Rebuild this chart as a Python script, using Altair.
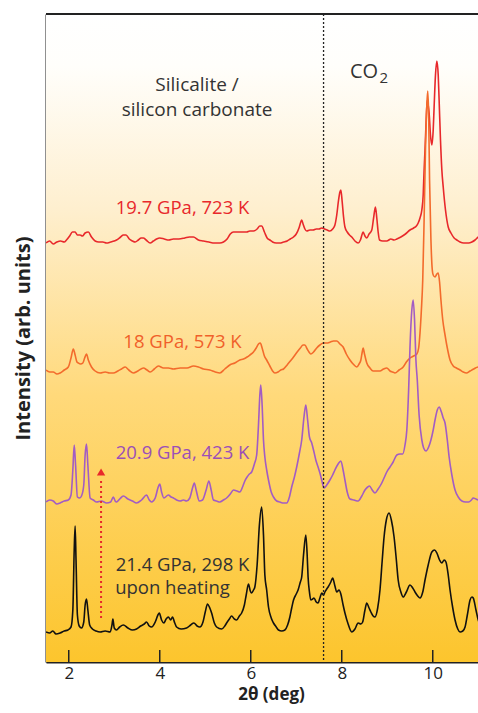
import altair as alt
import pandas as pd

# ---------------- data (2theta in deg, intensity in arbitrary units incl. offset) -------------
x_298 = [1.50,1.58,1.65,1.72,1.81,1.90,1.98,2.05,2.09,2.12,2.14,2.16,2.19,2.23,2.28,2.33,2.36,2.39,2.42,2.46,2.52,2.60,2.69,2.80,2.91,2.95,2.97,3.00,3.05,3.12,3.20,3.30,3.40,3.49,3.58,3.66,3.71,3.77,3.82,3.90,3.96,3.99,4.04,4.09,4.14,4.19,4.24,4.28,4.33,4.37,4.47,4.59,4.68,4.75,4.82,4.88,4.95,5.00,5.05,5.10,5.14,5.20,5.25,5.36,5.43,5.47,5.53,5.58,5.64,5.69,5.75,5.80,5.86,5.90,5.95,5.99,6.02,6.06,6.09,6.14,6.19,6.24,6.28,6.31,6.35,6.39,6.45,6.50,6.56,6.61,6.68,6.75,6.81,6.86,6.90,6.94,7.00,7.04,7.09,7.12,7.16,7.21,7.24,7.26,7.29,7.32,7.36,7.39,7.44,7.48,7.52,7.56,7.60,7.63,7.67,7.70,7.76,7.80,7.85,7.89,7.94,7.98,8.03,8.07,8.14,8.22,8.29,8.36,8.42,8.46,8.51,8.55,8.60,8.64,8.69,8.73,8.79,8.84,8.89,8.93,8.98,9.04,9.09,9.15,9.20,9.24,9.30,9.35,9.42,9.50,9.56,9.61,9.67,9.72,9.78,9.83,9.90,9.98,10.04,10.09,10.15,10.20,10.25,10.29,10.34,10.38,10.44,10.49,10.55,10.60,10.66,10.71,10.76,10.82,10.86,10.89,10.95,11.00,11.08,11.20]
y_298 = [28,27,29,26,27,29,30,33,50,110,134,100,45,34,32,38,55,61,50,35,31,29,28,29,28,35,41,32,30,33,35,32,30,31,34,36,38,34,33,38,45,47,40,37,41,43,40,43,37,33,31,32,35,37,34,33,38,48,56,52,47,37,33,31,34,37,41,44,41,40,44,47,55,65,76,69,67,70,73,95,135,153,125,85,70,53,42,37,33,30,29,30,35,43,52,60,66,70,78,83,105,125,105,83,68,60,61,62,58,57,62,67,65,68,71,73,78,82,74,68,70,66,55,47,36,28,31,37,36,38,50,57,52,48,44,43,52,70,100,123,140,147,140,123,100,80,68,63,68,75,72,68,64,62,68,80,95,108,110,107,100,97,100,98,85,70,52,40,31,28,29,33,45,60,63,62,50,40,33,30]

x_423 = [1.50,1.58,1.66,1.74,1.81,1.90,1.99,2.05,2.09,2.12,2.15,2.19,2.24,2.28,2.33,2.36,2.39,2.42,2.47,2.54,2.61,2.72,2.83,2.92,2.98,3.02,3.05,3.12,3.20,3.30,3.40,3.49,3.60,3.71,3.77,3.82,3.90,3.96,4.00,4.04,4.09,4.19,4.25,4.30,4.37,4.45,4.52,4.59,4.66,4.72,4.76,4.80,4.87,4.94,5.02,5.08,5.13,5.18,5.25,5.32,5.40,5.47,5.55,5.62,5.70,5.76,5.82,5.87,5.92,5.97,6.02,6.08,6.13,6.17,6.20,6.22,6.25,6.28,6.31,6.35,6.39,6.45,6.50,6.57,6.64,6.72,6.79,6.85,6.90,6.96,7.01,7.07,7.12,7.17,7.21,7.25,7.29,7.34,7.39,7.43,7.48,7.52,7.57,7.61,7.67,7.74,7.80,7.85,7.92,7.98,8.03,8.07,8.12,8.18,8.27,8.36,8.44,8.51,8.57,8.61,8.67,8.73,8.80,8.88,8.94,8.99,9.06,9.13,9.21,9.28,9.34,9.39,9.43,9.47,9.50,9.54,9.57,9.60,9.63,9.66,9.70,9.76,9.80,9.85,9.91,9.96,10.01,10.05,10.10,10.14,10.19,10.23,10.27,10.32,10.36,10.42,10.49,10.56,10.64,10.72,10.79,10.85,10.89,10.95,11.00,11.10,11.20]
y_423 = [158,160,159,156,157,159,160,165,190,215,195,163,162,164,175,205,216,195,162,160,158,159,157,158,163,159,158,161,164,161,159,157,160,165,160,158,162,172,176,168,162,165,163,162,160,159,160,159,162,172,177,170,159,160,170,179,170,160,159,158,160,162,166,170,169,168,173,179,183,186,188,196,205,235,265,275,255,220,203,190,180,168,163,159,158,157,157,163,173,183,193,207,220,243,255,240,223,217,208,200,193,187,178,172,175,180,185,190,196,199,190,180,168,161,160,159,164,170,173,174,170,167,171,177,183,188,193,198,205,206,206,215,230,270,313,350,360,340,300,280,245,220,212,209,213,220,230,240,250,253,248,242,237,220,203,185,170,163,159,158,158,160,162,161,160,159,160]

x_573 = [1.50,1.58,1.66,1.74,1.81,1.90,1.99,2.05,2.10,2.14,2.18,2.21,2.26,2.31,2.35,2.39,2.43,2.50,2.58,2.69,2.80,2.90,2.98,3.08,3.16,3.24,3.32,3.42,3.52,3.64,3.72,3.79,3.88,3.97,4.08,4.19,4.30,4.45,4.60,4.74,4.85,4.96,5.10,5.22,5.32,5.43,5.54,5.65,5.76,5.84,5.92,5.98,6.06,6.12,6.17,6.21,6.25,6.30,6.35,6.42,6.48,6.53,6.60,6.66,6.72,6.80,6.87,6.94,7.02,7.09,7.15,7.19,7.24,7.28,7.32,7.38,7.45,7.52,7.60,7.67,7.75,7.82,7.89,7.96,8.03,8.10,8.18,8.25,8.33,8.38,8.42,8.45,8.47,8.50,8.55,8.62,8.69,8.76,8.84,8.92,8.99,9.06,9.12,9.17,9.26,9.35,9.42,9.50,9.58,9.65,9.69,9.72,9.75,9.78,9.81,9.84,9.87,9.89,9.91,9.93,9.96,9.99,10.01,10.05,10.09,10.12,10.15,10.18,10.22,10.27,10.32,10.38,10.45,10.52,10.60,10.67,10.74,10.82,10.90,11.00,11.10,11.20]
y_573 = [290,288,288,286,287,290,293,302,311,305,298,297,296,297,302,306,300,293,289,287,288,287,287,289,291,293,290,287,289,292,290,288,291,294,292,292,291,292,292,294,293,291,290,288,287,291,295,297,300,301,303,305,308,312,316,317,312,304,300,294,289,287,288,290,291,295,299,303,308,312,315,315,311,308,306,308,312,315,317,317,318,319,319,316,313,306,300,296,293,296,300,308,312,306,297,292,289,289,289,291,292,289,288,287,290,293,298,302,304,306,312,327,350,380,440,510,555,569,545,480,420,390,385,383,386,387,378,360,340,325,312,300,294,292,290,288,287,289,291,293,292,292]

x_723 = [1.50,1.58,1.66,1.74,1.82,1.90,1.95,2.02,2.08,2.14,2.19,2.25,2.30,2.36,2.43,2.50,2.58,2.66,2.75,2.83,2.92,3.00,3.05,3.14,3.20,3.26,3.33,3.40,3.46,3.53,3.59,3.64,3.70,3.79,3.86,3.93,4.00,4.10,4.20,4.30,4.42,4.55,4.65,4.74,4.85,4.96,5.08,5.20,5.32,5.40,5.48,5.55,5.62,5.70,5.80,5.91,5.98,6.06,6.14,6.20,6.24,6.30,6.36,6.42,6.48,6.56,6.64,6.72,6.80,6.87,6.94,7.00,7.06,7.10,7.12,7.15,7.19,7.23,7.30,7.37,7.44,7.50,7.56,7.62,7.68,7.74,7.80,7.85,7.89,7.93,7.96,7.98,8.01,8.04,8.07,8.12,8.17,8.22,8.29,8.36,8.41,8.45,8.47,8.51,8.55,8.60,8.66,8.70,8.74,8.77,8.80,8.83,8.90,8.99,9.08,9.15,9.21,9.30,9.40,9.50,9.58,9.64,9.68,9.72,9.76,9.79,9.81,9.83,9.86,9.88,9.90,9.92,9.95,9.98,10.01,10.03,10.06,10.09,10.12,10.14,10.17,10.20,10.23,10.28,10.34,10.40,10.47,10.53,10.60,10.68,10.79,10.86,10.93,11.00,11.10,11.20]
y_723 = [417,419,416,418,419,418,420,424,428,428,425,425,424,427,428,423,419,418,418,417,418,419,420,423,425,425,421,419,418,420,422,422,420,417,419,421,422,421,420,421,421,422,423,423,420,419,418,417,417,418,421,426,428,428,428,428,429,429,431,434,434,428,422,420,418,417,417,418,419,421,423,426,432,438,440,436,431,429,430,430,431,431,432,431,430,429,431,435,445,460,468,470,458,443,433,428,425,423,419,417,420,426,428,424,422,426,430,442,453,442,428,420,419,419,421,420,421,423,426,430,432,434,437,442,450,465,490,510,545,560,555,547,525,515,530,553,585,599,585,560,520,490,473,450,433,427,422,420,418,417,417,418,420,423,424,424]

series_names = ["19.7 GPa, 723 K", "18 GPa, 573 K", "20.9 GPa, 423 K", "21.4 GPa, 298 K"]
series_colors = ["#E8282B", "#F36B2C", "#A25CC4", "#111111"]
tick_values = [2, 4, 6, 8, 10]
co2_boundary = [7.6]

rows = []
for name, xs, ys in [(series_names[0], x_723, y_723), (series_names[1], x_573, y_573),
                     (series_names[2], x_423, y_423), (series_names[3], x_298, y_298)]:
    for a, b in zip(xs, ys):
        rows.append({"two_theta": a, "intensity": b, "series": name})
df = pd.DataFrame(rows)

W, H = 432, 648
FONT = "Open Sans"
xscale = alt.Scale(domain=[1.5, 1.5 + W / 45.5], nice=False, zero=False)
yscale = alt.Scale(domain=[-2, 646], nice=False, zero=False)
one = pd.DataFrame({"a": [0]})

bg = alt.Chart(one).mark_rect(
    fill=alt.Gradient(gradient="linear", x1=0, x2=0, y1=0, y2=1,
                      stops=[alt.GradientStop(offset=0, color="#FFFFFF"),
                             alt.GradientStop(offset=0.08, color="#FFFEFB"),
                             alt.GradientStop(offset=0.3, color="#FEEFCF"),
                             alt.GradientStop(offset=0.59, color="#FFD97A"),
                             alt.GradientStop(offset=1.0, color="#FCC52D")])
).encode(x=alt.value(0), x2=alt.value(W), y=alt.value(0), y2=alt.value(H))

lines = alt.Chart(df).mark_line(interpolate="monotone", clip=True).encode(
    x=alt.X("two_theta:Q", scale=xscale,
            axis=alt.Axis(title="2θ (deg)", values=tick_values, ticks=False, grid=False,
                          domain=True, domainColor="#222", domainWidth=2,
                          labelFontSize=17, labelFont=FONT, labelColor="#222", labelPadding=3,
                          titleFont=FONT, titleFontSize=17, titleFontWeight="bold",
                          titleColor="#222", titlePadding=5, titleX=225)),
    y=alt.Y("intensity:Q", scale=yscale,
            axis=alt.Axis(title="Intensity (arb. units)", labels=False, ticks=False, grid=False,
                          domain=True, domainColor="#222", domainWidth=2,
                          titleFont=FONT, titleFontSize=20, titleFontWeight="bold",
                          titleColor="#222", titlePadding=13)),
    color=alt.Color("series:N", scale=alt.Scale(domain=series_names, range=series_colors), legend=None),
    strokeWidth=alt.StrokeWidth("series:N", scale=alt.Scale(domain=series_names, range=[1.6, 1.6, 1.6, 2.2]), legend=None),
)

top_border = alt.Chart(one).mark_rule(color="#222", strokeWidth=2).encode(
    x=alt.value(0), x2=alt.value(W), y=alt.value(0))

vline = alt.Chart(pd.DataFrame({"x": co2_boundary})).mark_rule(
    color="#222", strokeWidth=1.3, strokeDash=[2, 2]).encode(x=alt.X("x:Q", scale=xscale))

ticks = alt.Chart(pd.DataFrame({"t": tick_values})).mark_rule(color="#222", strokeWidth=1.5).encode(
    x=alt.X("t:Q", scale=xscale), y=alt.value(H - 12), y2=alt.value(H))

arrow_line = alt.Chart(pd.DataFrame({"x": [2.71], "y": [42], "y2": [182]})).mark_rule(
    color="#E8282B", strokeWidth=2, strokeDash=[2, 3]).encode(
    x=alt.X("x:Q", scale=xscale), y=alt.Y("y:Q", scale=yscale), y2="y2:Q")
arrow_head = alt.Chart(pd.DataFrame({"x": [2.71], "y": [188]})).mark_point(
    shape="triangle-up", filled=True, size=70, color="#E8282B", opacity=1).encode(
    x=alt.X("x:Q", scale=xscale), y=alt.Y("y:Q", scale=yscale))

def label(txt, x, y, color, size=18.5, align="center"):
    return alt.Chart(pd.DataFrame({"x": [x], "y": [y], "t": [txt]})).mark_text(
        font=FONT, fontSize=size, color=color, align=align, baseline="middle").encode(
        x=alt.X("x:Q", scale=xscale), y=alt.Y("y:Q", scale=yscale), text="t:N")

labels = [
    label("Silicalite /", 4.82, 575, "#333333", size=19),
    label("silicon carbonate", 4.82, 550, "#333333", size=19),
    label("CO", 8.18, 588, "#333333", size=20, align="left"),
    label("2", 8.83, 582, "#333333", size=15, align="left"),
    label(series_names[0], 4.5, 452, "#E8282B"),
    label(series_names[1], 4.5, 318, "#F0602A"),
    label(series_names[2], 4.5, 207, "#9B4FB8"),
    label(series_names[3], 4.5, 95, "#333333"),
    label("upon heating", 3.02, 72, "#333333", align="left"),
]

chart = alt.layer(bg, lines, top_border, vline, ticks, arrow_line, arrow_head, *labels).properties(
    width=W, height=H, autosize=alt.AutoSizeParams(type="none"),
    padding={"left": 46, "top": 14, "right": 0, "bottom": 51},
).configure_view(stroke=None).configure(background="white")

chart.save("out.html", embed_options={"renderer": "svg", "actions": False})
